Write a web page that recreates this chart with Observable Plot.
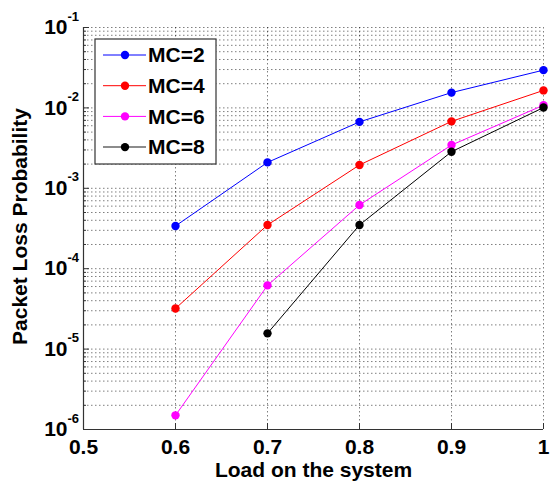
<!DOCTYPE html>
<html>
<head>
<meta charset="utf-8">
<script src="https://cdn.jsdelivr.net/npm/d3@7"></script>
<script src="https://cdn.jsdelivr.net/npm/@observablehq/plot@0.6"></script>
<style>
  html, body { margin: 0; padding: 0; background: #fff; }
  #chart { position: relative; width: 550px; height: 483px; }
  svg { font-family: "Liberation Sans", Arial, sans-serif; font-weight: bold; }
</style>
</head>
<body>
<div id="chart"></div>
<script>
// ---- data ----
const load = [0.6, 0.7, 0.8, 0.9, 1.0];
const load8 = [0.7, 0.8, 0.9, 1.0];
const mc2 = [3.4e-4, 2.1e-3, 6.7e-3, 1.55e-2, 2.95e-2];
const mc4 = [3.2e-5, 3.5e-4, 1.95e-3, 6.8e-3, 1.65e-2];
const mc6 = [1.5e-6, 6.2e-5, 6.2e-4, 3.45e-3, 1.08e-2];
const mc8 = [1.57e-5, 3.5e-4, 2.85e-3, 1.01e-2];
const seriesNames = ["MC=2", "MC=4", "MC=6", "MC=8"];
const seriesColors = ["#0000ff", "#ff0000", "#ff00ff", "#000000"];
const xTicks = [0.5, 0.6, 0.7, 0.8, 0.9, 1.0];
const yExponents = [-6, -5, -4, -3, -2, -1];
const xLabel = "Load on the system";
const yLabel = "Packet Loss Probability";

// ---- derived tables ----
const rows = [];
[[load, mc2], [load, mc4], [load, mc6], [load8, mc8]].forEach(([xs, ys], i) => {
  xs.forEach((x, j) => rows.push({series: seriesNames[i], x, y: ys[j]}));
});
const yMajor = yExponents.map(e => Math.pow(10, e));
const yMinor = [];
for (const e of yExponents.slice(0, -1)) for (let m = 2; m <= 9; m++) yMinor.push(m * Math.pow(10, e));
const yGrid = yMajor.concat(yMinor);

const grid = {stroke: "#000", strokeOpacity: 0.5, strokeDasharray: "1.5,2.5", strokeWidth: 1};

const plot = Plot.plot({
  width: 550,
  height: 483,
  marginLeft: 83,
  marginRight: 7,
  marginTop: 27,
  marginBottom: 54,
  style: {fontFamily: "Liberation Sans, Arial, sans-serif", fontWeight: "bold", color: "#000", background: "#fff"},
  x: {domain: [0.5, 1.0]},
  y: {type: "log", domain: [1e-6, 1e-1]},
  color: {domain: seriesNames, range: seriesColors},
  marks: [
    Plot.gridY(yGrid, grid),
    Plot.gridX(xTicks.slice(1), grid),
    // inward tick marks
    Plot.axisY(yMinor, {tickSize: -3, text: null, label: null, stroke: "#333"}),
    Plot.axisY(yMajor, {tickSize: -6, text: null, label: null, stroke: "#333"}),
    Plot.axisX(xTicks, {tickSize: -6, text: null, label: null, stroke: "#333"}),
    // x tick labels
    Plot.axisX(xTicks, {tickSize: 0, tickPadding: 10, fontSize: 21, label: null,
      tickFormat: d => String(+d.toFixed(1))}),
    // y tick labels: "10" with superscript exponent
    Plot.text(yMajor, {x: () => 0.5, y: d => d, text: () => "10", textAnchor: "end", dx: -16,
      fontSize: 21, lineAnchor: "middle"}),
    Plot.text(yMajor, {x: () => 0.5, y: d => d, text: d => String(Math.round(Math.log10(d))),
      textAnchor: "start", dx: -16, dy: -11, fontSize: 13, lineAnchor: "middle"}),
    // axis lines
    Plot.ruleX([0.5], {stroke: "#333", strokeWidth: 1.2}),
    Plot.ruleY([1e-6], {stroke: "#333", strokeWidth: 1.2}),
    // axis titles
    Plot.text([xLabel], {frameAnchor: "bottom", dy: 41, fontSize: 21, lineAnchor: "middle", textAnchor: "middle"}),
    Plot.text([yLabel], {frameAnchor: "left", dx: -63, dy: -2, rotate: -90, fontSize: 21, lineAnchor: "middle", textAnchor: "middle"}),
    // data
    Plot.line(rows, {x: "x", y: "y", z: "series", stroke: "series", strokeWidth: 1}),
    Plot.dot(rows, {x: "x", y: "y", fill: "series", r: 4.2})
  ]
});
document.getElementById("chart").appendChild(plot);

// ---- legend inside the plot ----
const svg = d3.select(plot);
const lg = svg.append("g").attr("transform", "translate(95,39)");
lg.append("rect").attr("width", 121).attr("height", 125)
  .attr("fill", "#fff").attr("stroke", "#333").attr("stroke-width", 1.2);
seriesNames.forEach((name, i) => {
  const cy = 16 + i * 30.7;
  lg.append("line").attr("x1", 8).attr("x2", 51).attr("y1", cy).attr("y2", cy)
    .attr("stroke", seriesColors[i]).attr("stroke-width", i === 3 ? 2 : 1)
    .attr("stroke-opacity", i === 3 ? 0.45 : 1);
  lg.append("circle").attr("cx", 30).attr("cy", cy).attr("r", 4.2).attr("fill", seriesColors[i]);
  lg.append("text").attr("x", 53).attr("y", cy).attr("dy", "0.35em")
    .attr("text-anchor", "start")
    .attr("font-size", 21).attr("font-weight", "bold").attr("fill", "#000").text(name);
});
</script>
</body>
</html>
